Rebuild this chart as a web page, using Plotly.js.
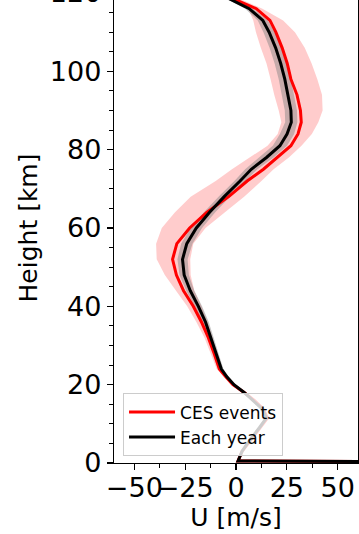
<!DOCTYPE html>
<html>
<head>
<meta charset="utf-8">
<script src="https://cdn.plot.ly/plotly-3.0.1.min.js"></script>
<style>
  html, body { margin: 0; padding: 0; width: 359px; height: 534px; overflow: hidden; background: #fff; }
  #chart { position: absolute; left: 0; top: -20px; width: 359px; height: 554px; }
</style>
</head>
<body>
<div id="chart"></div>
<script>
// Height grid of the mean zonal-wind profiles [km]
const heights = [0, 0.5, 3, 6, 9, 11.5, 14, 16, 18, 20, 22, 24, 28, 32, 36, 40, 44, 48, 52, 56,
                 60, 64, 68, 72, 75, 78, 81, 84, 87, 90, 94, 98, 102, 106, 110, 113, 116, 118, 120];

// Mean zonal wind U [m/s] during CES events
const cesMean = [300, 1, 3, 7.5, 12, 15.5, 13, 9, 4, -1.5, -5, -8.2, -10.8, -13.6, -17, -21, -25.8, -29.3, -31.2, -29.1,
                 -22.8, -14.4, -3.6, 5.5, 13.5, 20.5, 27, 30.5, 32.1, 31.7, 30, 27, 25.2, 22.7, 19.6, 16.7, 10, 1, -7];
// Spread of the CES-event wind (lower / upper bound)
const cesLow  = [300, 0.5, 2, 6, 11, 14.5, 12, 8, 3, -2.5, -6, -9.5, -12.5, -15.5, -19.5, -24, -29.5, -35, -39, -39.3,
                 -36.5, -30, -22.3, -10, -2, 7, 15.5, 20.5, 22.3, 21, 18.8, 17, 15, 12.2, 9.8, 8.5, 6, -1, -8];
const cesHigh = [300, 1.5, 4, 8.5, 13, 16.5, 14, 10, 5, -0.5, -4, -7, -9.5, -11.5, -14, -17, -20.5, -22.3, -22.5, -21,
                 -15, -5.5, 4, 12.5, 18.5, 26, 32.2, 37.3, 40.5, 42.6, 42.3, 40, 37.2, 33.8, 29, 23.2, 13, 4, -5];

// Climatological mean zonal wind U [m/s] over every year, and its spread
const yearMean = [300, 1, 3, 7, 11.5, 15, 12.5, 8.5, 4, -1, -4.5, -7.2, -9.8, -12.2, -15, -18.5, -22.5, -25.5, -26.3, -24.2,
                  -19.5, -13, -5.8, 2, 7.5, 15, 21.6, 25.1, 27.2, 27, 25.5, 24, 22, 19.5, 16.3, 13.2, 6.5, -1.5, -9];
const yearStd  = [0, 0.5, 0.8, 0.8, 1, 1, 1, 1, 1, 1, 1, 1, 1.2, 1.4, 1.6, 1.8, 2, 2.3, 2.5, 2.8,
                  2.8, 2.8, 2.8, 2.8, 3, 3.5, 3.5, 3.5, 3, 3, 3, 3, 3, 3, 2.8, 2.5, 2, 1.5, 1];

const seriesNames = ['CES events', 'Each year'];
const xTickVals = [-50, -25, 0, 25, 50];
const yTickVals = [0, 20, 40, 60, 80, 100, 120];

const yearLow  = yearMean.map((u, i) => u - yearStd[i]);
const yearHigh = yearMean.map((u, i) => u + yearStd[i]);

const FONT = 'DejaVu Sans, sans-serif';

// Shaded spread between a lower and an upper wind profile
function band(lo, hi, color) {
  return [
    { x: lo, y: heights, mode: 'lines', line: { width: 0 }, showlegend: false, hoverinfo: 'skip' },
    { x: hi, y: heights, mode: 'lines', line: { width: 0 }, fill: 'tonextx', fillcolor: color,
      showlegend: false, hoverinfo: 'skip' }
  ];
}

const traces = [
  ...band(cesLow, cesHigh, 'rgba(255,0,0,0.2)'),
  ...band(yearLow, yearHigh, 'rgba(128,128,128,0.45)'),
  { x: cesMean, y: heights, mode: 'lines', name: seriesNames[0], line: { color: '#ff0000', width: 3 } },
  { x: yearMean, y: heights, mode: 'lines', name: seriesNames[1], line: { color: '#000000', width: 3 } }
];

const axisCommon = {
  showgrid: false,
  zeroline: false,
  showline: true,
  linecolor: '#000',
  linewidth: 1.2,
  mirror: true,
  ticks: 'outside',
  ticklen: 6,
  tickwidth: 1.2,
  tickcolor: '#000',
  tickangle: 0,
  tickfont: { family: FONT, size: 27, color: '#000' }
};

const layout = {
  width: 359,
  height: 554,
  margin: { l: 114, r: 1, t: 13, b: 71 },
  paper_bgcolor: '#fff',
  plot_bgcolor: '#fff',
  font: { family: FONT, color: '#000' },
  xaxis: Object.assign({}, axisCommon, {
    range: [-60, 60],
    tickvals: xTickVals,
    ticktext: xTickVals.map(v => (v < 0 ? '\u2212' + Math.abs(v) : String(v))),
    ticklabelstandoff: -6,
    minor: { dtick: 12.5, tick0: 0, ticks: 'outside', ticklen: 3.5, tickwidth: 1, tickcolor: '#000' },
    title: { text: 'U [m/s]', font: { family: FONT, size: 25, color: '#000' }, standoff: 2 }
  }),
  yaxis: Object.assign({}, axisCommon, {
    range: [0, 120],
    tickvals: yTickVals,
    minor: { dtick: 5, tick0: 0, ticks: 'outside', ticklen: 3.5, tickwidth: 1, tickcolor: '#000' },
    title: { text: 'Height [km]', font: { family: FONT, size: 25, color: '#000' }, standoff: 5 }
  }),
  legend: {
    x: 0.037, y: 0.014, xanchor: 'left', yanchor: 'bottom',
    traceorder: 'normal',
    itemwidth: 46,
    bgcolor: 'rgba(255,255,255,0.8)',
    bordercolor: '#cccccc',
    borderwidth: 1,
    font: { family: FONT, size: 17, color: '#000' },
    tracegroupgap: 0
  },
  showlegend: true
};

Plotly.newPlot('chart', traces, layout, { displayModeBar: false, staticPlot: true });
</script>
</body>
</html>
